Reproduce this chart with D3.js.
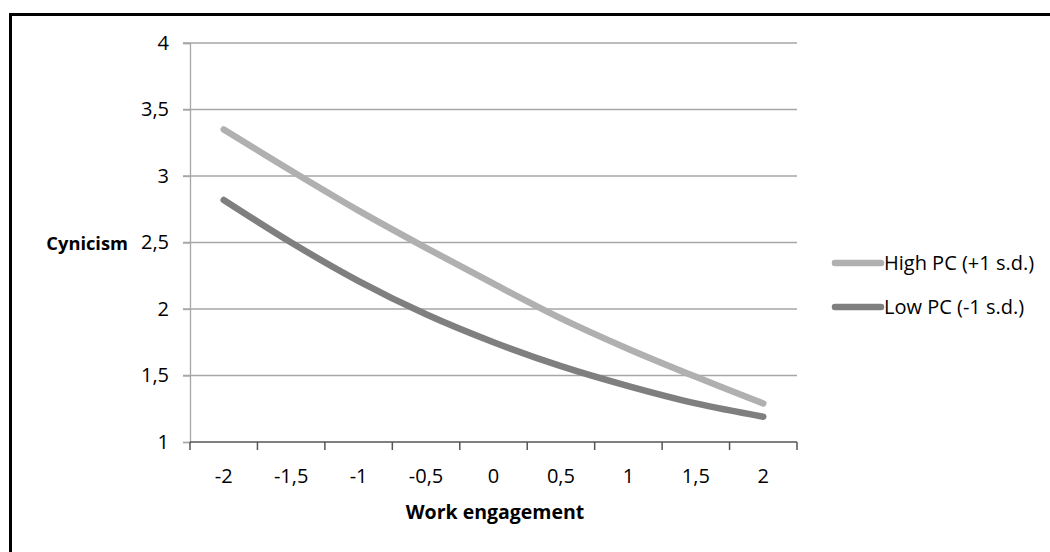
<!DOCTYPE html>
<html>
<head>
<meta charset="utf-8">
<script src="https://cdn.jsdelivr.net/npm/d3@7"></script>
<style>
  body { margin: 0; background: #fff; }
  text { font-family: "Open Sans", "Noto Sans", sans-serif; fill: #000; }
</style>
</head>
<body>
<svg id="chart"></svg>
<script>
const categories = ["-2", "-1,5", "-1", "-0,5", "0", "0,5", "1", "1,5", "2"]
const highPC = [3.35, 3.04, 2.74, 2.46, 2.19, 1.93, 1.70, 1.49, 1.29]
const lowPC = [2.82, 2.50, 2.21, 1.96, 1.75, 1.57, 1.42, 1.29, 1.19]
const yTicks = [1, 1.5, 2, 2.5, 3, 3.5, 4]
const seriesNames = ["High PC (+1 s.d.)", "Low PC (-1 s.d.)"]
const seriesColors = ["#b0b0b0", "#7f7f7f"]

const width = 1050, height = 552

const svg = d3.select("#chart")
  .attr("width", width)
  .attr("height", height)

// outer frame (right and bottom edges fall outside the picture)
svg.append("rect")
  .attr("x", 10.5).attr("y", 14.5)
  .attr("width", 1100).attr("height", 600)
  .attr("fill", "none")
  .attr("stroke", "#000")
  .attr("stroke-width", 3)

const x = d3.scaleBand().domain(categories).range([190, 797]).padding(0)
const y = d3.scaleLinear().domain([1, 4]).range([442, 43])

// gridlines
svg.append("g").selectAll("line")
  .data(yTicks.filter(d => d > 1))
  .enter().append("line")
  .attr("x1", 183).attr("x2", 797)
  .attr("y1", d => y(d)).attr("y2", d => y(d))
  .attr("stroke", "#a6a6a6")
  .attr("stroke-width", 1.3)

// y axis
const yAxis = svg.append("g")
  .attr("transform", "translate(190,0)")
  .call(d3.axisLeft(y).tickValues(yTicks).tickSize(7).tickPadding(14)
    .tickFormat(d => String(d).replace(".", ",")))
yAxis.select(".domain").attr("stroke", "#a6a6a6").attr("stroke-width", 1.3)
yAxis.selectAll(".tick line").attr("stroke", "#a6a6a6").attr("stroke-width", 1.3)
yAxis.selectAll("text").attr("font-size", 20).attr("font-family", "Open Sans").attr("fill", "#000")

// x axis: labels centered in categories, ticks on category boundaries
const xAxis = svg.append("g")
  .attr("transform", "translate(0,442)")
  .call(d3.axisBottom(x).tickSize(0).tickPadding(27))
xAxis.select(".domain").remove()
xAxis.selectAll("text").attr("font-size", 20).attr("font-family", "Open Sans").attr("fill", "#000")

svg.append("line")
  .attr("x1", 190).attr("x2", 797)
  .attr("y1", 442).attr("y2", 442)
  .attr("stroke", "#555").attr("stroke-width", 1.5)

svg.append("g").selectAll("line")
  .data(categories.map(c => x(c)).concat([x(categories[categories.length - 1]) + x.bandwidth()]))
  .enter().append("line")
  .attr("x1", d => d).attr("x2", d => d)
  .attr("y1", 442).attr("y2", 450)
  .attr("stroke", "#555").attr("stroke-width", 1.5)

// axis titles
svg.append("text")
  .attr("x", 495).attr("y", 519)
  .attr("text-anchor", "middle")
  .attr("font-size", 19.5).attr("font-weight", "bold")
  .text("Work engagement")

svg.append("text")
  .attr("x", 128).attr("y", 250)
  .attr("text-anchor", "end")
  .attr("font-size", 18.3).attr("font-weight", "bold")
  .text("Cynicism")

// lines
const line = d3.line()
  .x((d, i) => x(categories[i]) + x.bandwidth() / 2)
  .y(d => y(d))
  .curve(d3.curveCatmullRom.alpha(0.5))

const allSeries = [highPC, lowPC]
svg.append("g").selectAll("path")
  .data(allSeries)
  .enter().append("path")
  .attr("d", d => line(d))
  .attr("fill", "none")
  .attr("stroke", (d, i) => seriesColors[i])
  .attr("stroke-width", 6.5)
  .attr("stroke-linecap", "round")
  .attr("stroke-linejoin", "round")

// legend
const legend = svg.append("g").selectAll("g")
  .data(seriesNames)
  .enter().append("g")
  .attr("transform", (d, i) => `translate(0,${263 + i * 44})`)

legend.append("line")
  .attr("x1", 835).attr("x2", 881)
  .attr("y1", 0).attr("y2", 0)
  .attr("stroke", (d, i) => seriesColors[i])
  .attr("stroke-width", 6.5)
  .attr("stroke-linecap", "round")

legend.append("text")
  .attr("x", 884).attr("y", 7)
  .attr("font-size", 20)
  .text(d => d)
</script>
</body>
</html>
